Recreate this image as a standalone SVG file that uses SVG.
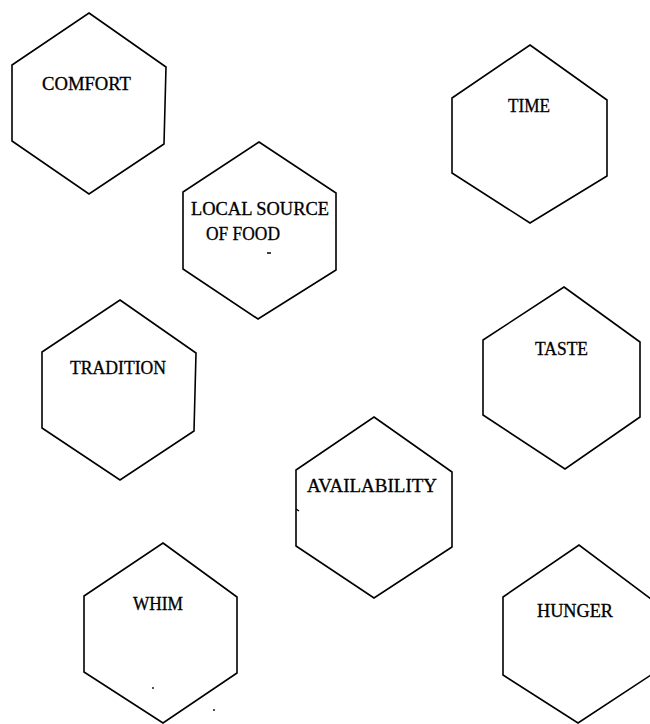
<svg xmlns="http://www.w3.org/2000/svg" width="650" height="724" viewBox="0 0 650 724">
<style>
.hex{fill:none;stroke:#000;stroke-width:1.6;stroke-linejoin:miter}
.lbl{font-family:"Liberation Serif","Times New Roman",serif;font-size:18px;fill:#000;stroke:#000;stroke-width:0.3}
.mark{stroke:#000;stroke-width:1.5;fill:none}
</style>
<rect width="650" height="724" fill="#fff"/>
<g id="comfort">
<polygon class="hex" points="89,13 166,67 164,144 89,194 12,141 12,65"/>
<text class="lbl" x="42" y="90" textLength="89" lengthAdjust="spacingAndGlyphs">COMFORT</text>
</g>
<g id="time">
<polygon class="hex" points="530,45 607,100 607,176 530,223 452,173 452,98"/>
<text class="lbl" x="508" y="112" textLength="42" lengthAdjust="spacingAndGlyphs">TIME</text>
</g>
<g id="local-source">
<polygon class="hex" points="259,142 336,193 336,270 258,319 183,269 183,192"/>
<text class="lbl" x="191" y="215" textLength="138" lengthAdjust="spacingAndGlyphs">LOCAL SOURCE</text>
<text class="lbl" x="206" y="240" textLength="74" lengthAdjust="spacingAndGlyphs">OF FOOD</text>
<line class="mark" x1="267" y1="253" x2="271" y2="253"/>
</g>
<g id="tradition">
<polygon class="hex" points="120,300 196,353 194,431 120,480 42,428 42,352"/>
<text class="lbl" x="70" y="374" textLength="96" lengthAdjust="spacingAndGlyphs">TRADITION</text>
</g>
<g id="taste">
<polygon class="hex" points="564,287 640,342 640,417 565,469 483,415 483,340"/>
<text class="lbl" x="535" y="355" textLength="53" lengthAdjust="spacingAndGlyphs">TASTE</text>
</g>
<g id="availability">
<polygon class="hex" points="374,417 452,472 452,547 374,598 296,546 296,470"/>
<text class="lbl" x="307" y="492" textLength="130" lengthAdjust="spacingAndGlyphs">AVAILABILITY</text>
<line class="mark" x1="296" y1="509" x2="299" y2="511"/>
</g>
<g id="whim">
<polygon class="hex" points="163,543 237,597 237,673 163,723 84,672 84,596"/>
<text class="lbl" x="133" y="610" textLength="50" lengthAdjust="spacingAndGlyphs">WHIM</text>
<circle cx="153" cy="688" r="0.9" fill="#000"/>
<circle cx="214" cy="710" r="0.9" fill="#000"/>
</g>
<g id="hunger">
<polyline class="hex" points="651,599 579,545 503,597 503,675 578,723 651,675"/>
<text class="lbl" x="537" y="617" textLength="76" lengthAdjust="spacingAndGlyphs">HUNGER</text>
</g>
<g id="connectors"></g>
</svg>
